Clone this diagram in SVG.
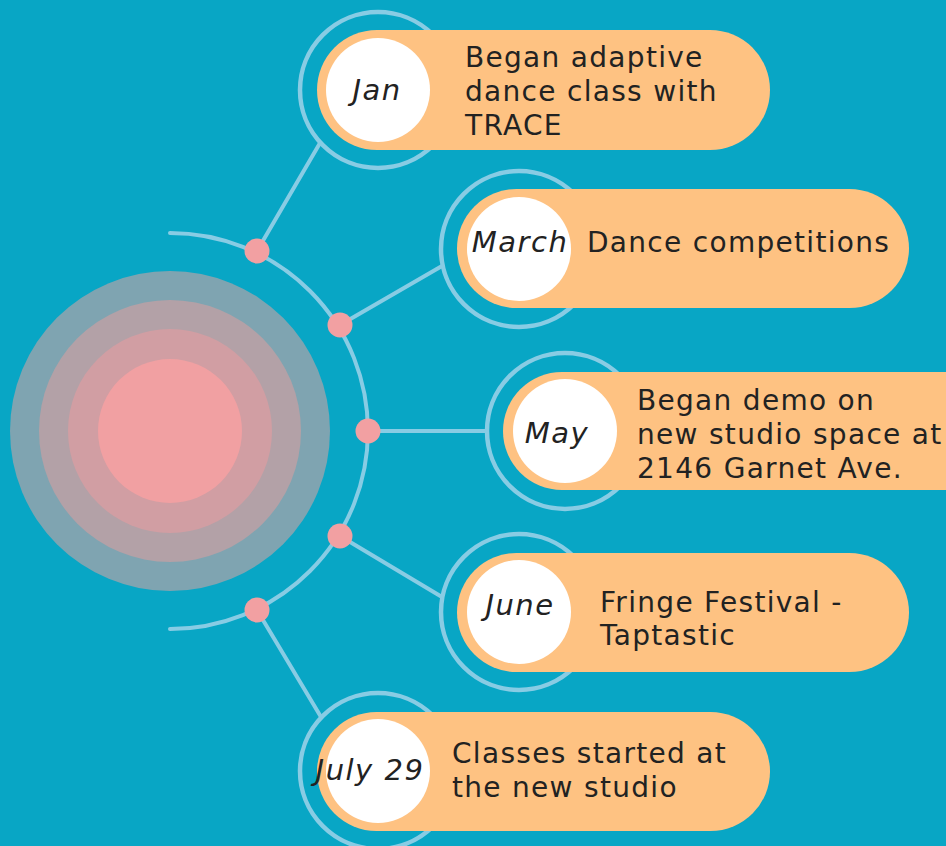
<svg xmlns="http://www.w3.org/2000/svg" width="946" height="846" viewBox="0 0 946 846">
<style>
.conn{stroke:#88cce4;stroke-width:4;fill:none;stroke-linecap:round}
.ring{stroke:#88cce4;stroke-width:4.5;fill:none}
.dot{fill:#f2a0a2}
.pill{fill:#fec282}
.wc{fill:#ffffff}
.lbl{font-family:"DejaVu Sans",sans-serif;font-size:28px;fill:#222222;letter-spacing:1.3px}
.date{font-family:"DejaVu Sans",sans-serif;font-size:29px;font-style:italic;fill:#222222;text-anchor:middle;letter-spacing:1.5px}
</style>
<rect width="946" height="846" fill="#08a6c5"/>
<g id="hub">
<circle cx="170" cy="431" r="160" fill="#7fa4b1"/>
<circle cx="170" cy="431" r="131" fill="#b3a1a7"/>
<circle cx="170" cy="431" r="102" fill="#d19ea3"/>
<circle cx="170" cy="431" r="72" fill="#f1a0a2"/>
</g>
<g id="connectors">
<path class="conn" d="M170 233 A198 198 0 0 1 170 629"/>
<line class="conn" x1="257" y1="251" x2="320" y2="143"/>
<line class="conn" x1="340" y1="325" x2="442" y2="266"/>
<line class="conn" x1="368" y1="431" x2="487" y2="431"/>
<line class="conn" x1="340" y1="536" x2="442" y2="597"/>
<line class="conn" x1="257" y1="610" x2="321" y2="717"/>
</g>
<g id="dots">
<circle class="dot" cx="257" cy="251" r="12.5"/>
<circle class="dot" cx="340" cy="325" r="12.5"/>
<circle class="dot" cx="368" cy="431" r="12.5"/>
<circle class="dot" cx="340" cy="536" r="12.5"/>
<circle class="dot" cx="257" cy="610" r="12.5"/>
</g>
<g id="node-jan">
<circle class="ring" cx="378" cy="90" r="78"/>
<rect class="pill" x="317" y="30" width="453" height="120" rx="60"/>
<circle class="wc" cx="378" cy="90" r="52"/>
<text class="date" x="377" y="100">Jan</text>
<text class="lbl" x="465" y="67">Began adaptive</text>
<text class="lbl" x="465" y="101">dance class with</text>
<text class="lbl" x="465" y="135">TRACE</text>
</g>
<g id="node-march">
<circle class="ring" cx="519" cy="249" r="78"/>
<rect class="pill" x="457" y="189" width="452" height="119" rx="59.5"/>
<circle class="wc" cx="519" cy="249" r="52"/>
<text class="date" x="520" y="252">March</text>
<text class="lbl" x="587" y="252">Dance competitions</text>
</g>
<g id="node-may">
<circle class="ring" cx="565" cy="431" r="78"/>
<rect class="pill" x="503" y="372" width="500" height="118" rx="59"/>
<circle class="wc" cx="565" cy="431" r="52"/>
<text class="date" x="557" y="443">May</text>
<text class="lbl" x="637" y="410">Began demo on</text>
<text class="lbl" x="637" y="444">new studio space at</text>
<text class="lbl" x="637" y="478">2146 Garnet Ave.</text>
</g>
<g id="node-june">
<circle class="ring" cx="519" cy="612" r="78"/>
<rect class="pill" x="457" y="553" width="452" height="119" rx="59.5"/>
<circle class="wc" cx="519" cy="612" r="52"/>
<text class="date" x="520" y="615">June</text>
<text class="lbl" x="600" y="612">Fringe Festival -</text>
<text class="lbl" x="600" y="645">Taptastic</text>
</g>
<g id="node-july">
<circle class="ring" cx="378" cy="771" r="78"/>
<rect class="pill" x="317" y="712" width="453" height="119" rx="59.5"/>
<circle class="wc" cx="378" cy="771" r="52"/>
<text class="date" x="370" y="780">July 29</text>
<text class="lbl" x="452" y="763">Classes started at</text>
<text class="lbl" x="452" y="797">the new studio</text>
</g>
</svg>
